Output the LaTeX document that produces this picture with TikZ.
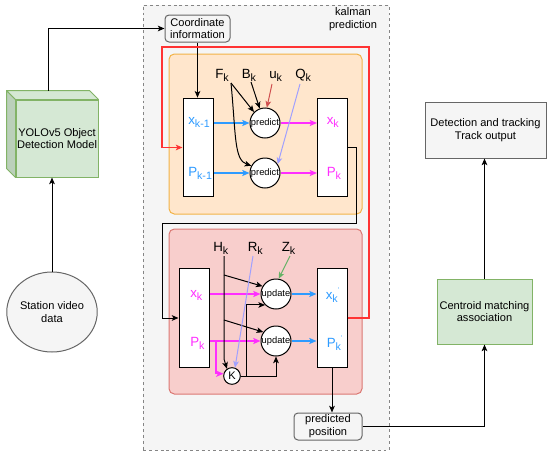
\documentclass[tikz,border=0pt]{standalone}
\usepackage{fontspec}
\setmainfont{Liberation Sans}
\usetikzlibrary{arrows.meta,calc,fit,shapes.geometric}
\definecolor{gfill}{HTML}{F5F5F5}
\definecolor{gline}{HTML}{666666}
\definecolor{grfill}{HTML}{D5E8D4}
\definecolor{grline}{HTML}{82B366}
\definecolor{grdark}{HTML}{BBD0BA}
\definecolor{orfill}{HTML}{FFE6CC}
\definecolor{orline}{HTML}{F2B347}
\definecolor{pkfill}{HTML}{F8CECC}
\definecolor{pkline}{HTML}{DB7873}
\definecolor{myblue}{HTML}{2E9BFF}
\definecolor{mymag}{HTML}{FF2EFF}
\definecolor{myred}{HTML}{FF3333}
\definecolor{udark}{HTML}{D05050}
\definecolor{lav}{HTML}{A0A0FF}
\definecolor{mygreen}{HTML}{66B266}
\newcommand{\boxfont}{\fontsize{8.3}{9.6}\selectfont}
\newcommand{\circfont}{\fontsize{7}{8}\selectfont}
\newcommand{\labfont}{\fontsize{10}{11}\selectfont}
\newcommand{\sbs}[1]{\raisebox{-2.5pt}{\fontsize{8}{8}\selectfont #1}}
\newcommand{\prm}{\raisebox{5pt}{\fontsize{5}{5}\selectfont '}}
\begin{document}
\begin{tikzpicture}[x=0.75pt,y=-0.75pt,
  arr/.style={-{Stealth[length=5pt,width=4.2pt,inset=1.2pt]}, line width=0.75pt, draw=black},
  barr/.style={arr, draw=myblue, line width=1.2pt, -{Stealth[length=5.5pt,width=4.6pt,inset=1.3pt]}},
  marr/.style={arr, draw=mymag, line width=1.1pt, -{Stealth[length=5.5pt,width=4.6pt,inset=1.3pt]}},
  graybox/.style={draw=gline, fill=gfill, rounded corners=3pt, align=center, font=\boxfont, inner sep=0pt, line width=0.75pt},
  sqbox/.style={draw=gline, fill=gfill, align=center, font=\boxfont, inner sep=0pt, line width=0.75pt},
  greenbox/.style={draw=grline, fill=grfill, align=center, font=\boxfont, inner sep=0pt, line width=0.75pt},
  wbox/.style={draw=black, fill=white, line width=0.75pt, inner sep=0pt, minimum width=22.5pt, minimum height=74pt},
  opcirc/.style={circle, draw=black, fill=white, line width=0.75pt, inner sep=0pt, minimum size=22.5pt, font=\circfont},
  lab/.style={anchor=base west, inner sep=0pt, font=\labfont},
  container/.style={rounded corners=4pt, line width=0.75pt, inner sep=0pt}
]
\useasboundingbox (0,0) rectangle (550,457);

% outer dashed container
\node[fit={(143,5) (389,450)}, inner sep=0pt, draw=gline!80, fill=gfill, dash pattern=on 2.2pt off 2.2pt, line width=0.75pt] (outer) {};
\node[font=\boxfont, align=center] (ktitle) at (353,19) {kalman\\prediction};

% containers
\node[container, fit={(169,54) (362,214)}, draw=orline, fill=orfill] (orange) {};
\node[container, fit={(169,229) (362,394)}, draw=pkline, fill=pkfill] (pink) {};

% left side
\node[greenbox, minimum width=61.5pt, minimum height=57.75pt] (yolo) at (57,138.5) {YOLOv5 Object\\Detection Model};
\fill[grdark, draw=grline, line width=0.75pt, line join=round] (yolo.north west) -- ++(-9,-9) -- ($(yolo.south west)+(-9,-9)$) -- (yolo.south west) -- cycle;
\fill[grfill, draw=grline, line width=0.75pt, line join=round] (yolo.north west) -- ++(-9,-9) -- ($(yolo.north east)+(-9,-9)$) -- (yolo.north east) -- cycle;
\coordinate (ytop) at ($(yolo.north)+(-9,-9)$);
\node[ellipse, draw=gline, fill=gfill, line width=0.75pt, minimum width=67.5pt, minimum height=60pt, inner sep=0pt, align=center, font=\boxfont] (station) at (52,312) {Station video\\data};

% right side
\node[sqbox, minimum width=90.75pt, minimum height=42pt] (detect) at (485.5,130) {Detection and tracking\\Track output};
\node[greenbox, minimum width=71.25pt, minimum height=48.75pt] (centroid) at (484.5,311.5) {Centroid matching\\association};

% grey rounded boxes
\node[graybox, minimum width=48.75pt, minimum height=20.25pt] (coord) at (197.5,28.5) {Coordinate\\information};
\node[graybox, minimum width=51pt, minimum height=20.25pt] (predpos) at (328,426.5) {predicted\\position};

% prediction stage
\node[wbox] (b1) at (198,147.5) {};
\node[wbox] (b2) at (332.5,147.5) {};
\node[opcirc] (p1) at (265,123) {predict};
\node[opcirc] (p2) at (265,173) {predict};
\node[lab, text=myblue] (lx1) at (188,124) {x\sbs{k-1}};
\node[lab, text=myblue] (lp1) at (188,176) {P\sbs{k-1}};
\node[lab, text=mymag] (lx2) at (326.5,124) {x\sbs{k}};
\node[lab, text=mymag] (lp2) at (326.5,176) {P\sbs{k}};
\node[lab] (Fk) at (215,78) {F\sbs{k}};
\node[lab] (Bk) at (241.5,78) {B\sbs{k}};
\node[lab] (uk) at (269,78) {u\sbs{k}};
\node[lab] (Qk) at (295,78) {Q\sbs{k}};

% update stage
\node[wbox] (b3) at (194,318) {};
\node[wbox] (b4) at (332,318) {};
\node[opcirc] (u1) at (276,294) {update};
\node[opcirc] (u2) at (276,341) {update};
\node[circle, draw=black, fill=white, line width=0.75pt, inner sep=0pt, minimum size=12.5pt, font=\boxfont] (K) at (232,376) {K};
\node[lab, text=mymag] (lx3) at (190,297) {x\sbs{k}};
\node[lab, text=mymag] (lp3) at (190,346) {P\sbs{k}};
\node[lab, text=myblue] (lx4) at (325.5,299) {x\sbs{k}\prm};
\node[lab, text=myblue] (lp4) at (326.5,347) {P\sbs{k}\prm};
\node[lab] (Hk) at (213,251) {H\sbs{k}};
\node[lab] (Rk) at (247.5,251) {R\sbs{k}};
\node[lab] (Zk) at (281.5,251) {Z\sbs{k}};

% coordinates for connector ends
\coordinate (rc1) at (369,47);
\coordinate (rc2) at (162,47);
\coordinate (lc1) at (356,223);
\coordinate (lc2) at (162,223);
\coordinate (fk0) at (231,83);
\coordinate (bk0) at (251,82);
\coordinate (uk0) at (272,84);
\coordinate (qk0) at (300,84);
\coordinate (hk0) at (224,256);
\coordinate (hk1) at (224,359);
\coordinate (hb1) at (224,275);
\coordinate (hb2) at (224,320);
\coordinate (rk0) at (253,256);
\coordinate (zk0) at (290,256);
\coordinate (mk) at (216,341);
\coordinate (kj) at (246,376);

% outer flow
\draw[arr] (ytop) |- (coord.west);
\draw[arr] (station.north) -- (station.north |- yolo.south);
\draw[arr] (coord.south) -- (coord.south |- b1.north);
\draw[arr] (b4.south) -- (b4.south |- predpos.north);
\draw[arr] (predpos.east) -| (centroid.south);
\draw[arr] (centroid.north) -- (centroid.north |- detect.south);

% loops
\draw[arr, draw=myred, line width=0.9pt] (b4.east) -- (b4.east -| rc1) -- (rc1) -- (rc2) |- (b1.west);
\draw[arr] (b2.east) -| (lc1) -- (lc2) |- (b3.west);

% prediction stage arrows
\draw[barr] (b1.east |- p1) -- (p1);
\draw[barr] (b1.east |- p2) -- (p2);
\draw[marr] (p1) -- (p1 -| b2.west);
\draw[marr] (p2) -- (p2 -| b2.west);
\draw[arr] (fk0) -- (p1.north west);
\draw[arr] (fk0) .. controls (236,135) and (234,160) .. (p2.152);
\draw[arr] (bk0) -- (p1.110);
\draw[arr, draw=udark] (uk0) -- (p1.83);
\draw[arr, draw=lav] (qk0) -- (p2.35);

% update stage arrows
\draw[marr] (b3.east |- u1) -- (u1);
\draw[marr] (b3.east |- u2) -- (u2);
\draw[marr] (mk) |- (K.165);
\draw[barr] (u1) -- (u1 -| b4.west);
\draw[barr] (u2) -- (u2 -| b4.west);
\draw[arr] (hk0) -- (hk1) -- (K.125);
\draw[arr] (hb1) -- (u1.150);
\draw[arr] (hb2) -- (u2.145);
\draw[arr, draw=lav] (rk0) -- (K.70);
\draw[arr, draw=mygreen] (zk0) -- (u1.80);
\draw[arr] (K.east) -| (u2.south);
\draw[arr] (kj) |- (u1.south west);
\end{tikzpicture}
\end{document}
